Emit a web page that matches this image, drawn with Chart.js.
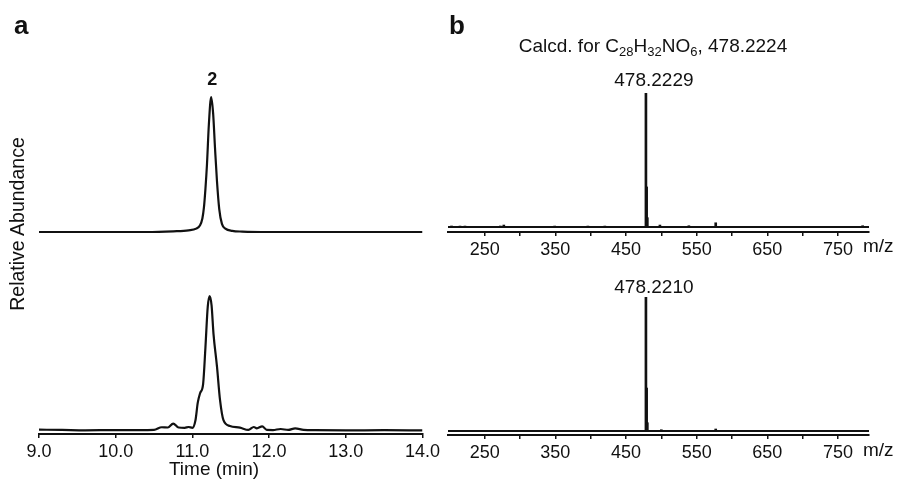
<!DOCTYPE html>
<html>
<head>
<meta charset="utf-8">
<script src="https://cdn.jsdelivr.net/npm/chart.js@4.4.0/dist/chart.umd.min.js"></script>
<style>
  body { margin: 0; background: #fff; font-family: "Liberation Sans", Arial, sans-serif; color: #111; }
  #wrap { position: relative; width: 897px; height: 484px; overflow: hidden; }
  #wrap canvas { position: absolute; left: 0; top: 0; }
  .txt { position: absolute; font-size: 19px; line-height: 1; white-space: nowrap; }
  .txt sub { font-size: 13px; vertical-align: -4px; line-height: 0; }
  .panel { font-weight: bold; font-size: 26px; }
</style>
</head>
<body>
<div id="wrap">
  <canvas id="chromTop" width="897" height="484"></canvas>
  <canvas id="chromBottom" width="897" height="484"></canvas>
  <canvas id="msTop" width="897" height="484"></canvas>
  <canvas id="msBottom" width="897" height="484"></canvas>

  <div class="txt panel" style="left:14px; top:12px;">a</div>
  <div class="txt panel" style="left:449px; top:12px;">b</div>
  <div class="txt" style="left:653px; top:36px; transform:translateX(-50%);">Calcd. for C<sub>28</sub>H<sub>32</sub>NO<sub>6</sub>, 478.2224</div>
  <div class="txt" style="left:18px; top:224px; transform:translate(-50%,-50%) rotate(-90deg); font-size:19.5px;">Relative Abundance</div>
  <div class="txt" style="left:214px; top:459px; transform:translateX(-50%);">Time (min)</div>
  <div class="txt" style="left:863px; top:236px;">m/z</div>
  <div class="txt" style="left:863px; top:440px;">m/z</div>
</div>

<script>
// a: extracted ion chromatograms (time in min, relative abundance in %)
const timeTop = [9.0, 10.0, 10.4, 10.75, 10.95, 11.05, 11.10, 11.13, 11.15, 11.17, 11.19, 11.215, 11.245,
                 11.27, 11.295, 11.32, 11.35, 11.385, 11.43, 11.52, 11.65, 12.0, 13.0, 14.0];
const abundTop = [0, 0, 0, 0.5, 1.2, 2.5, 5, 10, 18, 32, 50, 80, 100,
                  88, 62, 38, 17, 6, 2.5, 0.8, 0.3, 0, 0, 0];

const timeBottom = [9.0, 9.3, 9.6, 10.0, 10.3, 10.5, 10.6, 10.68, 10.75, 10.82, 10.9, 10.95, 11.0, 11.04,
                    11.07, 11.10, 11.14, 11.17, 11.20, 11.225, 11.25, 11.275, 11.32, 11.36, 11.405, 11.49,
                    11.62, 11.73, 11.80, 11.84, 11.91, 11.97, 12.05, 12.15, 12.25, 12.34, 12.45, 12.6,
                    13.0, 13.5, 14.0];
const abundBottom = [1, 0.8, 0.5, 0.7, 0.6, 0.8, 2.8, 2.6, 5.5, 2.6, 2.4, 3, 2.4, 8,
                     21, 28, 35, 62, 92, 100, 93, 72, 48, 23, 8, 3.7,
                     2.5, 0.8, 3, 2, 3.5, 0.8, 0.7, 1.5, 0.8, 2, 0.8, 0.6,
                     0.5, 0.6, 0.5];
const timeTicks = [9, 10, 11, 12, 13, 14];

// b: HRMS spectra (m/z, relative intensity in %)
const mzTop = [203, 215, 222, 272, 277, 349, 396, 420, 478.2, 479.2, 480.2, 498, 539, 577, 785];
const intTop = [0.8, 0.6, 0.7, 0.8, 1.5, 0.5, 0.5, 0.5, 100, 30, 7, 1.5, 1, 3.2, 1];
const mzBottom = [478.2, 479.2, 480.2, 500, 577];
const intBottom = [100, 32, 6, 0.5, 1.3];
const mzTicks = [250, 300, 350, 400, 450, 500, 550, 600, 650, 700, 750];
const mzLabels = [250, 350, 450, 550, 650, 750];

const peakNames = ['2', '478.2229', '478.2210'];

Chart.defaults.font.family = '"Liberation Sans", Arial, sans-serif';
Chart.defaults.color = '#111';
Chart.defaults.animation = false;
Chart.defaults.events = [];

// writes a label above the tallest point of the first dataset
const peakLabel = {
  id: 'peakLabel',
  afterDatasetsDraw(chart, args, opts) {
    if (!opts.text) return;
    const data = chart.data.datasets[0].data;
    let iMax = 0;
    data.forEach((d, i) => { if (d.y > data[iMax].y) iMax = i; });
    const el = chart.getDatasetMeta(0).data[iMax];
    const ctx = chart.ctx;
    ctx.save();
    ctx.font = opts.font;
    ctx.fillStyle = '#111';
    ctx.textAlign = 'center';
    ctx.textBaseline = 'alphabetic';
    ctx.fillText(opts.text, el.x + opts.dx, el.y - opts.dy);
    ctx.restore();
  }
};
Chart.register(peakLabel);

function points(xs, ys) {
  return xs.map((x, i) => ({ x: x, y: ys[i] }));
}

function bottomAxis(min, max, ticks, label, height) {
  return {
    type: 'linear', min: min, max: max, offset: false,
    afterBuildTicks: ax => { ax.ticks = ticks.map(v => ({ value: v })); },
    afterFit: ax => { ax.height = height; },
    border: { display: true, width: 2, color: '#111' },
    grid: { drawOnChartArea: false, drawTicks: true, tickLength: 4, color: '#111', lineWidth: 1.5, offset: false },
    ticks: { autoSkip: false, maxRotation: 0, padding: 3, color: '#111', font: { size: 18 }, callback: label }
  };
}

// zero line for the spectra, drawn as the only y grid line
function zeroAxis(min, max) {
  return {
    type: 'linear', min: min, max: max, position: 'left',
    afterBuildTicks: ax => { ax.ticks = [{ value: 0 }]; },
    afterFit: ax => { ax.width = 0; },
    border: { display: false },
    ticks: { display: false },
    grid: { drawTicks: false, color: '#111', lineWidth: 2 }
  };
}

// top chromatogram, no axis
new Chart(document.getElementById('chromTop'), {
  type: 'line',
  data: { datasets: [{ data: points(timeTop, abundTop), borderColor: '#111', borderWidth: 2.2,
                       pointRadius: 0, cubicInterpolationMode: 'monotone', fill: false }] },
  options: {
    responsive: false,
    layout: { padding: { left: 39, right: 474.5, top: 94.3, bottom: 249.3 } },
    plugins: { legend: { display: false }, tooltip: { enabled: false },
               peakLabel: { text: peakNames[0], font: 'bold 18px "Liberation Sans", Arial', dx: 1, dy: 12 } },
    scales: {
      x: { type: 'linear', min: 9, max: 14, display: false },
      y: { min: -2, max: 102, display: false }
    }
  }
});

// bottom chromatogram with time axis
new Chart(document.getElementById('chromBottom'), {
  type: 'line',
  data: { datasets: [{ data: points(timeBottom, abundBottom), borderColor: '#111', borderWidth: 2.2,
                       pointRadius: 0, cubicInterpolationMode: 'monotone', fill: false }] },
  options: {
    responsive: false,
    layout: { padding: { left: 39, right: 474.5, top: 293.3, bottom: 10 } },
    plugins: { legend: { display: false }, tooltip: { enabled: false } },
    scales: {
      x: bottomAxis(9, 14, timeTicks, v => v.toFixed(1), 40),
      y: { min: -2.2, max: 102, display: false }
    }
  }
});

function msChart(id, mz, inten, padTop, padBottom, yMin, name, dy) {
  new Chart(document.getElementById(id), {
    type: 'bar',
    data: { datasets: [{ data: points(mz, inten), backgroundColor: '#111', barThickness: 2,
                         borderWidth: 0, grouped: false }] },
    options: {
      responsive: false,
      layout: { padding: { left: 448, right: 28, top: padTop, bottom: padBottom } },
      plugins: { legend: { display: false }, tooltip: { enabled: false },
                 peakLabel: { text: name, font: '19px "Liberation Sans", Arial', dx: 8, dy: dy } },
      scales: {
        x: bottomAxis(198, 794, mzTicks, v => mzLabels.includes(v) ? String(v) : '', 30),
        y: zeroAxis(yMin, 102.5)
      }
    }
  });
}

msChart('msTop', mzTop, intTop, 90, 222, -3.7, peakNames[1], 7);
msChart('msBottom', mzBottom, intBottom, 294, 19, -3.2, peakNames[2], 4);
</script>
</body>
</html>
